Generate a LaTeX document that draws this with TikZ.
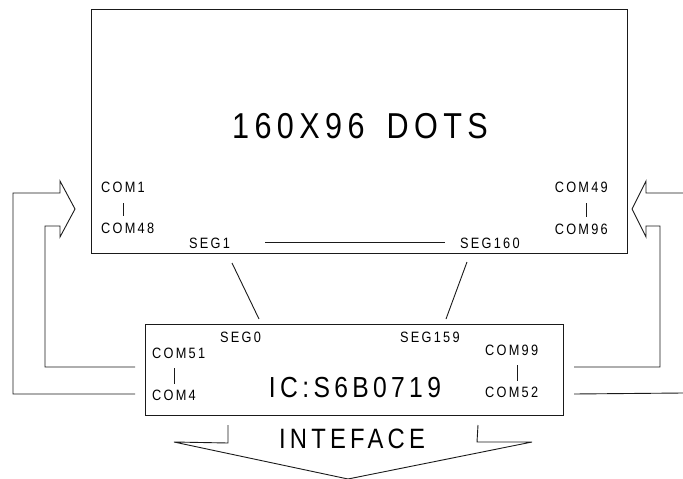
\documentclass[tikz,border=0pt]{standalone}
\usepackage{fontspec}
\usepackage{tikz}
\usetikzlibrary{positioning}
\newfontfamily\lcdfont[FakeStretch=0.85,LetterSpace=15]{Liberation Sans}
\definecolor{LineGray}{HTML}{1A1A1A}

\begin{document}
\begin{tikzpicture}[x=1pt,y=-1pt,
		panel/.style={draw=LineGray, line width=1pt, inner sep=0pt},
		pin/.style={font=\lcdfont\fontsize{15}{15}\selectfont, inner sep=0pt},
		title/.style={font=\lcdfont\fontsize{36}{36}\selectfont, inner sep=0pt},
		chip/.style={font=\lcdfont\fontsize{28}{28}\selectfont, inner sep=0pt},
		wire/.style={draw=LineGray, line width=0.9pt},
		bar/.style={draw=LineGray, line width=0.7pt}
		]
		\useasboundingbox (0,0) rectangle (683,479);
		% display and driver
		\node[panel, minimum width=536pt, minimum height=244pt, anchor=north west] (lcd) at (91,9) {};
		\node[panel, minimum width=418pt, minimum height=91pt, anchor=north west] (ic) at (145,324) {};
		\node[title, anchor=base] (dots) at (360,138) {160X96 \hspace{8pt}DOTS};
		\node[chip, anchor=base] (icname) at (355,397) {\fontsize{29}{29}\selectfont IC:S6B0719};
		\node[chip, anchor=base] (iface) at (352,448) {INTEFACE};
		% pin labels on the display
		\node[pin, anchor=base west] (com1) at (101,192) {COM1};
		\node[pin, anchor=base west] (com48) at (101,233) {COM48};
		\node[pin, anchor=base east] (com49) at (608,192) {COM49};
		\node[pin, anchor=base east] (com96) at (608,234) {COM96};
		\node[pin, anchor=base west] (seg1) at (189,248) {SEG1};
		\node[pin, anchor=base west] (seg160) at (460,248) {SEG160};
		% pin labels on the driver
		\node[pin, anchor=base west] (seg0) at (220,342) {SEG0};
		\node[pin, anchor=base west] (seg159) at (400,342) {SEG159};
		\node[pin, anchor=base west] (com51) at (152,358) {COM51};
		\node[pin, anchor=base west] (com4) at (152,400) {COM4};
		\node[pin, anchor=base west] (com99) at (485,355) {COM99};
		\node[pin, anchor=base west] (com52) at (485,397) {COM52};
		% ranges
		\draw[bar, shorten <=11pt, shorten >=6pt] (com1.south) -- (com1.south |- com48.north);
		\draw[bar, shorten <=11pt, shorten >=6pt] ([xshift=5pt]com49.south) -- ([xshift=5pt]com49.south |- com96.north);
		\draw[bar, shorten <=10pt, shorten >=5pt] (com4.north |- com51.south) -- (com4.north);
		\draw[bar, shorten <=10pt, shorten >=5pt] ([xshift=6pt]com99.south) -- ([xshift=6pt]com99.south |- com52.north);
		\draw[wire] ([xshift=35pt]seg1.east) -- ([xshift=-15pt]seg160.west);
		% segment links
		\coordinate (s1top) at (232,263);
		\coordinate (s0bot) at (259,319);
		\coordinate (s160top) at (467,262);
		\coordinate (s159bot) at (446,319);
		\draw[wire] (s1top) -- (s0bot);
		\draw[wire] (s160top) -- (s159bot);
		% common arrows
		\draw[wire] ([xshift=-10pt,yshift=22pt]ic.south west) -| (13,193) -- (60,193) -- (60,181)
			-- (75,209) -- (60,237) -- (60,226) -- (45,226) |- ([xshift=-10pt,yshift=49pt]ic.south west);
		\draw[wire] (683,193) -- (646,193) -- (646,181) -- (632,209) -- (646,237) -- (646,226)
			-- (660,226) |- ([xshift=10pt,yshift=49pt]ic.south east);
		\draw[wire] ([xshift=10pt,yshift=22pt]ic.south east) -- (683,393);
		% interface arrow
		\draw[wire] ([xshift=83pt,yshift=-9pt]ic.south west) -- ++(0,18) -- (174,442) -- (348,479)
			-- (532,442) -- (477,442) -- ([xshift=-86pt,yshift=-9pt]ic.south east);
\end{tikzpicture}
\end{document}
